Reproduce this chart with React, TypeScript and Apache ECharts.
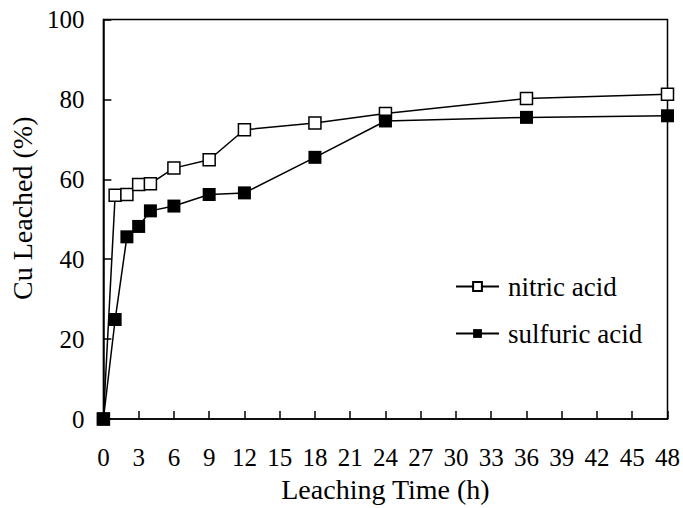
import React, { useEffect, useRef } from "react";
import * as echarts from "echarts";

const hours = [0, 1, 2, 3, 4, 6, 9, 12, 18, 24, 36, 48];
const nitric = [0, 56.0, 56.2, 58.7, 58.9, 62.8, 64.9, 72.4, 74.1, 76.5, 80.2, 81.3];
const sulfuric = [0, 24.9, 45.6, 48.2, 52.1, 53.3, 56.2, 56.6, 65.5, 74.6, 75.5, 75.9];
const seriesNames = ["nitric acid", "sulfuric acid"];
const xTitle = "Leaching Time (h)";
const yTitle = "Cu Leached (%)";

const FONT = "'Liberation Serif', 'Times New Roman', serif";

export default function App() {
  const ref = useRef<HTMLDivElement>(null);
  useEffect(() => {
    if (!ref.current) return;
    const chart = echarts.init(ref.current, undefined, { renderer: "svg" });
    const axisCommon = {
      axisLine: { show: true, onZero: false, lineStyle: { color: "#000", width: 1.5 } },
      axisTick: { show: true, inside: true, length: 8, lineStyle: { color: "#000", width: 1.5 } },
      splitLine: { show: false },
    };
    chart.setOption({
      animation: false,
      backgroundColor: "#fff",
      textStyle: { fontFamily: FONT },
      grid: { left: 101, top: 19.5, right: 12, bottom: 83, show: true, borderColor: "#000", borderWidth: 1.5 },
      legend: {
        orient: "vertical",
        left: 450,
        top: 268,
        itemWidth: 43,
        itemHeight: 11,
        itemGap: 20,
        data: seriesNames,
        textStyle: { fontFamily: FONT, fontSize: 27, color: "#000", padding: [0, 0, 0, 4] },
      },
      xAxis: {
        type: "value",
        min: 0,
        max: 48,
        interval: 3,
        ...axisCommon,
        axisLabel: { margin: 26, fontFamily: FONT, fontSize: 25, color: "#000" },
        name: xTitle,
        nameLocation: "middle",
        nameGap: 56,
        nameTextStyle: { fontFamily: FONT, fontSize: 28, color: "#000" },
      },
      yAxis: {
        type: "value",
        min: 0,
        max: 100,
        interval: 20,
        ...axisCommon,
        axisLabel: { margin: 19, fontFamily: FONT, fontSize: 25, color: "#000" },
        name: yTitle,
        nameLocation: "middle",
        nameGap: 66,
        nameTextStyle: { fontFamily: FONT, fontSize: 28, color: "#000", padding: [0, 0, 0, 22] },
      },
      series: [
        {
          name: seriesNames[0],
          type: "line",
          data: hours.map((h, i) => [h, nitric[i]]),
          symbol: "rect",
          symbolSize: 12,
          showAllSymbol: true,
          clip: false,
          lineStyle: { color: "#000", width: 1.5 },
          itemStyle: { color: "#fff", borderColor: "#000", borderWidth: 1.5 },
          z: 2,
        },
        {
          name: seriesNames[1],
          type: "line",
          data: hours.map((h, i) => [h, sulfuric[i]]),
          symbol: "rect",
          symbolSize: 13,
          showAllSymbol: true,
          clip: false,
          lineStyle: { color: "#000", width: 1.5 },
          itemStyle: { color: "#000", borderColor: "#000", borderWidth: 0 },
          z: 3,
        },
      ],
    });
    return () => chart.dispose();
  }, []);
  return <div ref={ref} style={{ width: 683, height: 508, position: "absolute", left: 0, top: 0 }} />;
}
